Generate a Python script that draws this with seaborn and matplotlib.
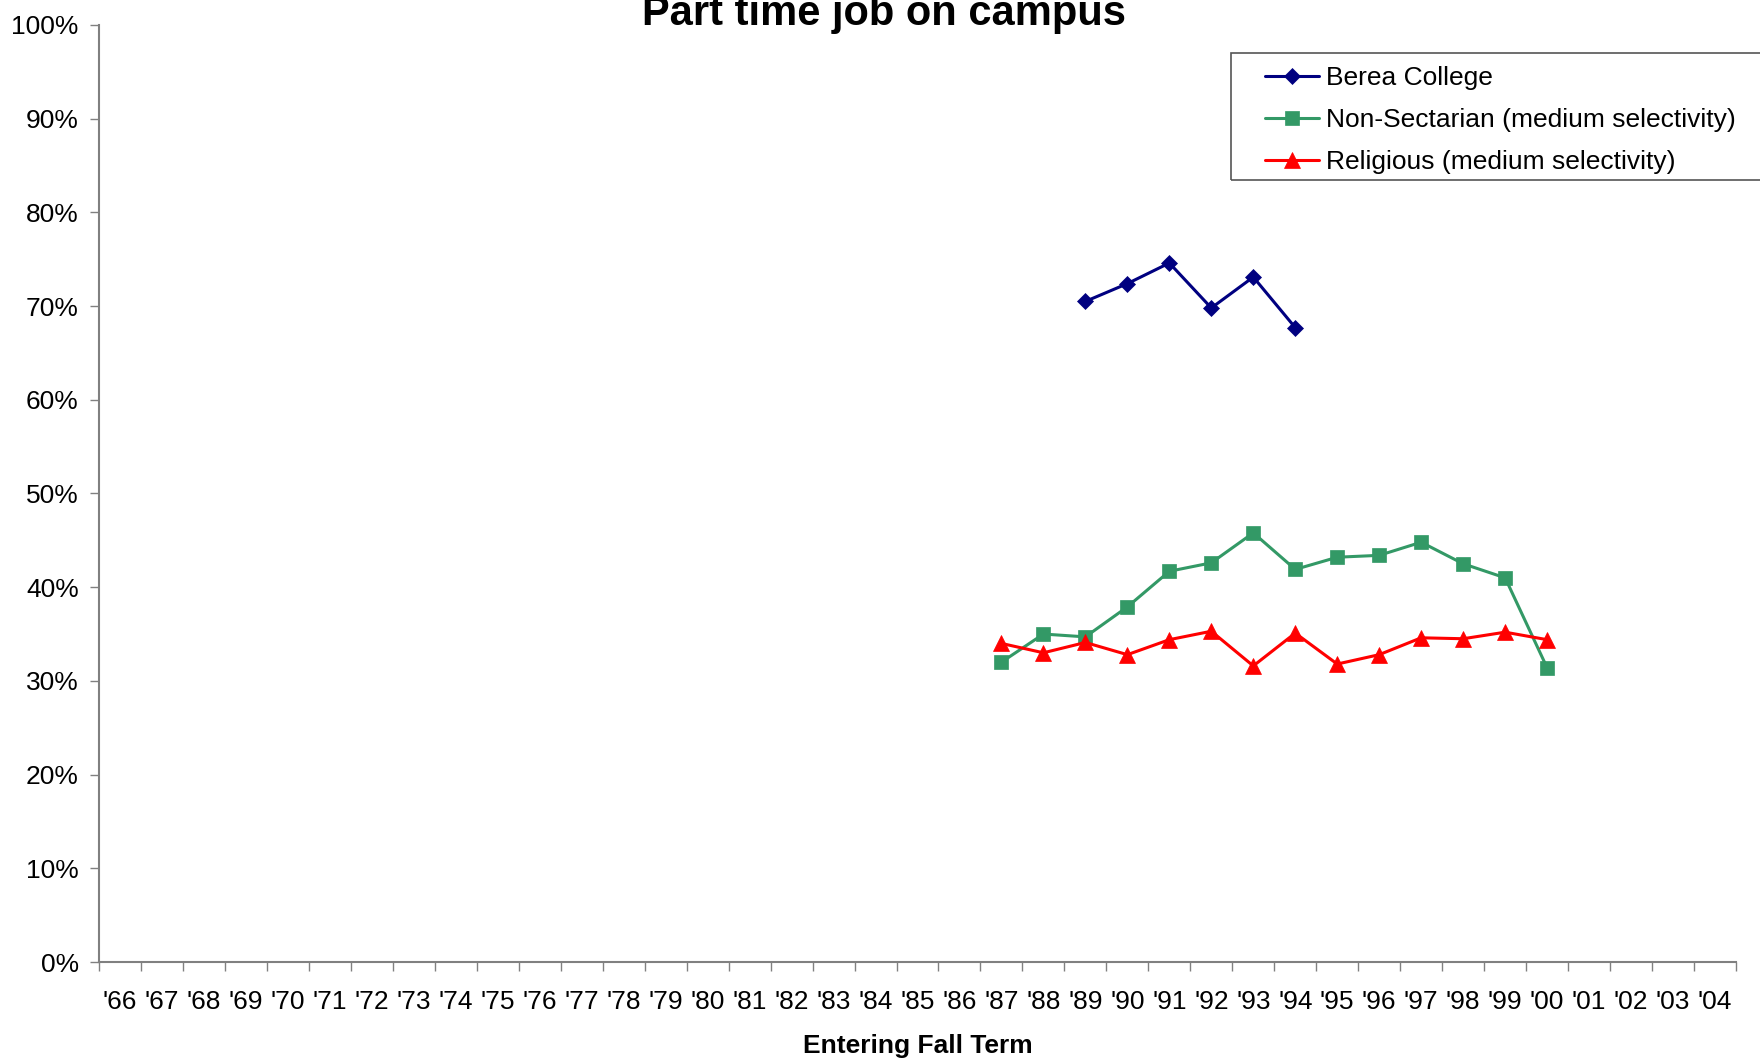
import numpy as np
import pandas as pd
import matplotlib
matplotlib.use('Agg')
import matplotlib.pyplot as plt
import seaborn as sns
from matplotlib.ticker import FixedLocator, NullFormatter, PercentFormatter
from matplotlib.patches import Rectangle

# Datos (porcentajes)
years = ["'66", "'67", "'68", "'69", "'70", "'71", "'72", "'73", "'74", "'75",
         "'76", "'77", "'78", "'79", "'80", "'81", "'82", "'83", "'84", "'85",
         "'86", "'87", "'88", "'89", "'90", "'91", "'92", "'93", "'94", "'95",
         "'96", "'97", "'98", "'99", "'00", "'01", "'02", "'03", "'04"]

berea_years = ["'89", "'90", "'91", "'92", "'93", "'94"]
berea_vals = [70.5, 72.4, 74.6, 69.8, 73.1, 67.7]

nonsect_years = ["'87", "'88", "'89", "'90", "'91", "'92", "'93", "'94",
                 "'95", "'96", "'97", "'98", "'99", "'00"]
nonsect_vals = [32.0, 35.0, 34.7, 37.9, 41.7, 42.6, 45.8, 41.9,
                43.2, 43.4, 44.8, 42.5, 41.0, 31.4]

relig_years = nonsect_years
relig_vals = [34.0, 33.0, 34.1, 32.8, 34.4, 35.3, 31.6, 35.1,
              31.8, 32.8, 34.6, 34.5, 35.2, 34.4]


def to_frame(labels, vals):
    return pd.DataFrame({'pos': [years.index(l) for l in labels], 'value': vals})


sns.set_style('ticks')
plt.rcParams['font.family'] = ['Liberation Sans', 'DejaVu Sans']
plt.rcParams['text.color'] = 'black'
plt.rcParams['axes.labelcolor'] = 'black'

fig, ax = plt.subplots(figsize=(17.6, 10.6), dpi=100)
fig.subplots_adjust(left=99 / 1760, right=1736 / 1760,
                    bottom=1 - 962 / 1060, top=1 - 25 / 1060)

series = [
    ('Berea College', berea_years, berea_vals, '#000080', 'D', 8.5),
    ('Non-Sectarian (medium selectivity)', nonsect_years, nonsect_vals, '#339966', 's', 9.5),
    ('Religious (medium selectivity)', relig_years, relig_vals, '#FF0000', '^', 11),
]
for name, labs, vals, color, marker, ms in series:
    sns.lineplot(data=to_frame(labs, vals), x='pos', y='value', ax=ax,
                 color=color, marker=marker, markersize=ms,
                 markeredgecolor=color, markeredgewidth=0.5,
                 linewidth=2.2, label=name, errorbar=None)

# Ejes
ax.set_xlim(-0.5, 38.5)
ax.set_ylim(0, 100)
ax.xaxis.set_major_locator(FixedLocator(np.arange(-0.5, 39, 1)))
ax.xaxis.set_major_formatter(NullFormatter())
ax.xaxis.set_minor_locator(FixedLocator(np.arange(len(years))))
ax.set_xticklabels(years, minor=True)
ax.tick_params(axis='x', which='major', bottom=True, length=6.5, width=1,
               color='#808080', direction='out')
ax.tick_params(axis='x', which='minor', bottom=True, length=0, pad=20,
               labelsize=19, labelcolor='black')
ax.set_yticks(np.arange(0, 101, 10))
ax.yaxis.set_major_formatter(PercentFormatter(100, decimals=0))
ax.tick_params(axis='y', left=True, length=6.5, width=1, color='#808080',
               pad=8, labelsize=19, labelcolor='black')

sns.despine(ax=ax)
for s in ['left', 'bottom']:
    ax.spines[s].set_color('#808080')
    ax.spines[s].set_linewidth(1.5)

ax.set_ylabel('')
ax.set_xlabel('Entering Fall Term', fontsize=19, fontweight='bold', va='center')
ax.xaxis.set_label_coords(0.5, -84 / 937)

fig.text(884 / 1760, 1 - 25 / 1060, 'Part time job on campus', ha='center',
         va='baseline', fontsize=30, fontweight='bold')

# Leyenda
ax.legend(loc='upper left', bbox_to_anchor=(1265 / 1760, 1 - 66 / 1060),
          bbox_transform=fig.transFigure, frameon=False, fontsize=19,
          handlelength=2.05, handletextpad=0.27, labelspacing=0.68,
          borderpad=0, borderaxespad=0, numpoints=1)
fig.add_artist(Rectangle((1231 / 1760, 1 - 180 / 1060), 0.32, 127 / 1060,
                         transform=fig.transFigure, fill=False,
                         edgecolor='#555555', linewidth=1.2))

fig.savefig('out.png', dpi=100)
